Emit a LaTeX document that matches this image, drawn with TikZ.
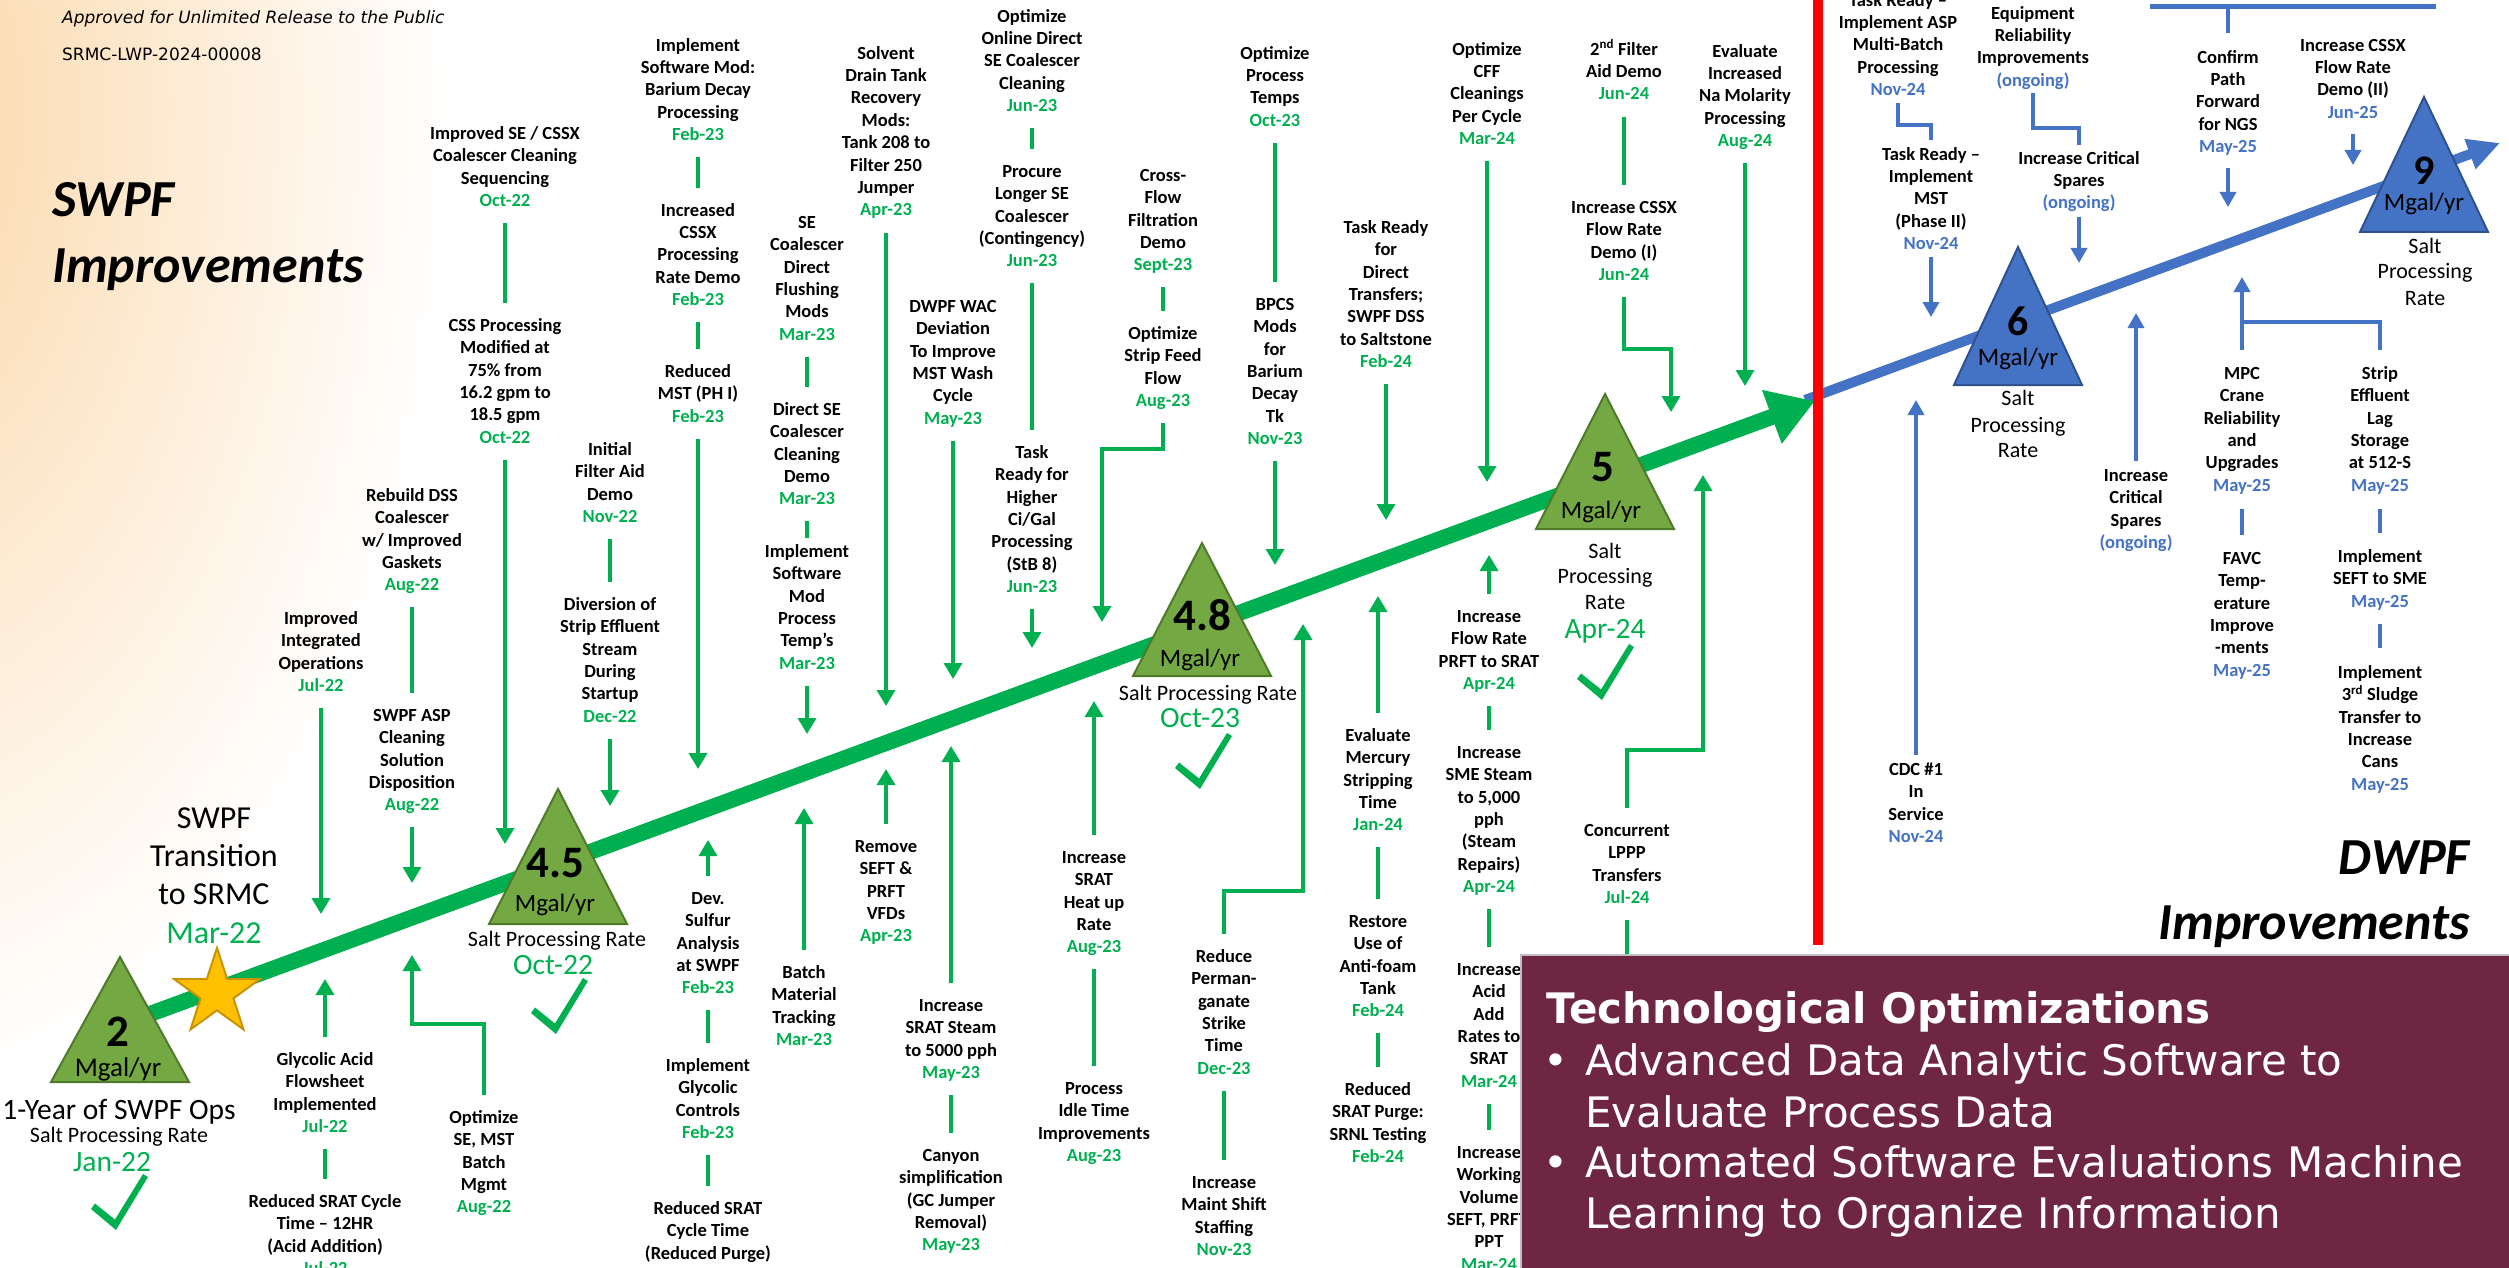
\documentclass[tikz,border=0pt]{standalone}
\usepackage{fontspec}
\setmainfont{Carlito}
\newfontfamily\djv{DejaVu Sans}
\usetikzlibrary{arrows.meta,shapes.geometric}
\definecolor{gline}{HTML}{00B050}
\definecolor{tri}{HTML}{74A843}
\definecolor{tridk}{HTML}{4F7A2C}
\definecolor{bline}{HTML}{4472C4}
\definecolor{btridk}{HTML}{2F528F}
\definecolor{maroon}{HTML}{6E2642}
\definecolor{glow}{RGB}{251,214,165}
\definecolor{starf}{HTML}{FFC000}
\definecolor{stard}{HTML}{C89200}
\newcommand\fsz[2]{\fontsize{#1}{#2}\selectfont}
\newcommand\lstr{\rule[-5.4pt]{0pt}{22.4pt}}
\newcommand\gdt[1]{\textcolor{gline}{#1}}
\newcommand\bdt[1]{\textcolor{bline}{#1}}
\newcommand\gitem[5]{\node[lbl] (#1) at (#2,#3) {\lstr #4\\\gdt{#5}\lstr};}
\newcommand\bitem[5]{\node[lbl] (#1) at (#2,#3) {\lstr #4\\\bdt{#5}\lstr};}
\tikzset{
 lbl/.style={anchor=north, align=center, inner sep=0pt, font=\bfseries\fsz{18.5}{22.4}},
 txt/.style={anchor=base, inner sep=0pt},
 gl/.style={draw=gline, line width=3.5pt},
 ga/.style={gl, -{Triangle[length=16pt,width=18pt]}},
 bl/.style={draw=bline, line width=3.5pt},
 ba/.style={bl, -{Triangle[length=15pt,width=16pt]}},
 numf/.style={txt, font=\bfseries\fsz{45}{50}},
 mgal/.style={txt, font=\fsz{25}{28}},
 spr/.style={txt, font=\fsz{22}{26}},
 bigd/.style={txt, font=\fsz{29.5}{34}, text=gline},
 ttl/.style={txt, font=\bfseries\itshape\fsz{52}{60}},
 gtri/.style={fill=tri, draw=tridk, line width=2pt},
 btri/.style={fill=bline, draw=btridk, line width=2pt},
 chk/.pic={\fill[gline] (-25,0.5) -- (-5,16.5) -- (23,-29) -- (28,-26) -- (-4,27) -- (-29,6) -- cycle;}
}
\begin{document}
\begin{tikzpicture}[x=1pt,y=-1pt]
\useasboundingbox (0,0) rectangle (2509,1268);
\clip (0,0) rectangle (2509,1268);
\fill[white] (0,0) rectangle (2509,1268);
\shade[inner color=glow, outer color=white] (-110,110) ellipse (560 and 980);

% header and titles
\node[txt, anchor=base west, font=\djv\itshape\fsz{17}{20}] (hdr1) at (62,24) {Approved for Unlimited Release to the Public};
\node[txt, anchor=base west, font=\djv\fsz{17}{20}] (hdr2) at (62,61) {SRMC-LWP-2024-00008};
\node[ttl, anchor=base west] (sw1) at (52,217) {SWPF};
\node[ttl, anchor=base west] (sw2) at (52,282) {Improvements};
\node[ttl, anchor=base east] (dw1) at (2470,874) {DWPF};
\node[ttl, anchor=base east] (dw2) at (2470,939) {Improvements};

% timelines
\draw[bline, line width=10pt, -{Triangle[length=32pt,width=30pt]}] (1805,400) -- (2500,143);
\draw[gline, line width=16pt, -{Triangle[length=46pt,width=54pt]}] (120,1025) -- (1815,401);
\draw[red, line width=10pt] (1818,-10) -- (1818,945);

% green triangles
\filldraw[gtri] (120,957) -- (51,1082) -- (189,1082) -- cycle;
\filldraw[gtri] (558,789) -- (489,924) -- (627,924) -- cycle;
\filldraw[gtri] (1202,543) -- (1133,676) -- (1271,676) -- cycle;
\filldraw[gtri] (1605,394) -- (1536,529) -- (1674,529) -- cycle;
% blue triangles
\filldraw[btri] (2018,247) -- (1954,385) -- (2082,385) -- cycle;
\filldraw[btri] (2424,97) -- (2360,232) -- (2488,232) -- cycle;

\node[star, star points=5, star point ratio=2.6, minimum size=90pt, inner sep=0pt, fill=starf, draw=stard, line width=2pt] (star) at (217,993) {};

% milestone texts
\node[numf] (n2) at (118,1046) {2};
\node[txt, font=\fsz{27}{30}] (m2) at (118,1076) {Mgal/yr};
\node[txt, font=\fsz{29.5}{34}] (y2) at (119,1119) {1-Year of SWPF Ops};
\node[spr] (s2) at (119,1142) {Salt Processing Rate};
\node[bigd] (d2) at (112,1171) {Jan-22};
\pic at (120,1203) {chk};

\node[txt, font=\fsz{32}{38}] (tr1) at (214,828) {SWPF};
\node[txt, font=\fsz{32}{38}] (tr2) at (214,866) {Transition};
\node[txt, font=\fsz{32}{38}] (tr3) at (214,904) {to SRMC};
\node[txt, font=\fsz{32}{38}, text=gline] (tr4) at (214,943) {Mar-22};

\node[numf] (n45) at (555,877) {4.5};
\node[mgal] (m45) at (555,911) {Mgal/yr};
\node[spr] (s45) at (557,946) {Salt Processing Rate};
\node[bigd] (d45) at (553,974) {Oct-22};
\pic at (560,1007) {chk};

\node[numf] (n48) at (1202,630) {4.8};
\node[mgal] (m48) at (1200,666) {Mgal/yr};
\node[spr] (s48) at (1208,700) {Salt Processing Rate};
\node[bigd] (d48) at (1200,727) {Oct-23};
\pic at (1204,762) {chk};

\node[numf] (n5) at (1603,481) {5};
\node[mgal] (m5) at (1601,518) {Mgal/yr};
\node[spr] (s5a) at (1605,558) {Salt};
\node[spr] (s5b) at (1605,583) {Processing};
\node[spr] (s5c) at (1605,609) {Rate};
\node[bigd] (d5) at (1605,638) {Apr-24};
\pic at (1606,673) {chk};

\node[txt, font=\bfseries\fsz{42}{48}] (n6) at (2018,335) {6};
\node[mgal] (m6) at (2018,365) {Mgal/yr};
\node[spr] (s6a) at (2018,405) {Salt};
\node[spr] (s6b) at (2018,432) {Processing};
\node[spr] (s6c) at (2018,457) {Rate};

\node[txt, font=\bfseries\fsz{42}{48}] (n9) at (2424,185) {9};
\node[mgal] (m9) at (2424,211) {Mgal/yr};
\node[spr] (s9a) at (2425,254) {Salt};
\node[spr] (s9b) at (2425,279) {Processing};
\node[spr] (s9c) at (2425,305) {Rate};

% green items
\gitem{g1}{321}{607}{Improved\\Integrated\\Operations}{Jul-22}
\gitem{g2}{325}{1048}{Glycolic Acid\\Flowsheet\\Implemented}{Jul-22}
\gitem{g3}{325}{1190}{Reduced SRAT Cycle\\Time -- 12HR\\(Acid Addition)}{Jul-22}
\gitem{g4}{412}{484}{Rebuild DSS\\Coalescer\\w/ Improved\\Gaskets}{Aug-22}
\gitem{g5}{412}{704}{SWPF ASP\\Cleaning\\Solution\\Disposition}{Aug-22}
\gitem{g6}{484}{1106}{Optimize\\SE, MST\\Batch\\Mgmt}{Aug-22}
\gitem{g7}{505}{122}{Improved SE / CSSX\\Coalescer Cleaning\\Sequencing}{Oct-22}
\gitem{g8}{505}{314}{CSS Processing\\Modified at\\75\% from\\16.2 gpm to\\18.5 gpm}{Oct-22}
\gitem{g9}{610}{438}{Initial\\Filter Aid\\Demo}{Nov-22}
\gitem{g10}{610}{593}{Diversion of\\Strip Effluent\\Stream\\During\\Startup}{Dec-22}
\gitem{g11}{698}{34}{Implement\\Software Mod:\\Barium Decay\\Processing}{Feb-23}
\gitem{g12}{698}{199}{Increased\\CSSX\\Processing\\Rate Demo}{Feb-23}
\gitem{g13}{698}{360}{Reduced\\MST (PH I)}{Feb-23}
\gitem{g14}{708}{887}{Dev.\\Sulfur\\Analysis\\at SWPF}{Feb-23}
\gitem{g15}{708}{1054}{Implement\\Glycolic\\Controls}{Feb-23}
\gitem{g16}{708}{1197}{Reduced SRAT\\Cycle Time\\(Reduced Purge)}{Feb-23}
\gitem{g17}{807}{211}{SE\\Coalescer\\Direct\\Flushing\\Mods}{Mar-23}
\gitem{g18}{807}{398}{Direct SE\\Coalescer\\Cleaning\\Demo}{Mar-23}
\gitem{g19}{807}{540}{Implement\\Software\\Mod\\Process\\Temp's}{Mar-23}
\gitem{g20}{804}{961}{Batch\\Material\\Tracking}{Mar-23}
\gitem{g21}{886}{42}{Solvent\\Drain Tank\\Recovery\\Mods:\\Tank 208 to\\Filter 250\\Jumper}{Apr-23}
\gitem{g22}{886}{835}{Remove\\SEFT \&\\PRFT\\VFDs}{Apr-23}
\gitem{g23}{953}{295}{DWPF WAC\\Deviation\\To Improve\\MST Wash\\Cycle}{May-23}
\gitem{g24}{951}{994}{Increase\\SRAT Steam\\to 5000 pph}{May-23}
\gitem{g25}{951}{1144}{Canyon\\simplification\\(GC Jumper\\Removal)}{May-23}
\gitem{g26}{1032}{5}{Optimize\\Online Direct\\SE Coalescer\\Cleaning}{Jun-23}
\gitem{g27}{1032}{160}{Procure\\Longer SE\\Coalescer\\(Contingency)}{Jun-23}
\gitem{g28}{1032}{441}{Task\\Ready for\\Higher\\Ci/Gal\\Processing\\(StB 8)}{Jun-23}
\gitem{g29}{1163}{164}{Cross-\\Flow\\Filtration\\Demo}{Sept-23}
\gitem{g30}{1163}{322}{Optimize\\Strip Feed\\Flow}{Aug-23}
\gitem{g31}{1094}{846}{Increase\\SRAT\\Heat up\\Rate}{Aug-23}
\gitem{g32}{1094}{1077}{Process\\Idle Time\\Improvements}{Aug-23}
\gitem{g33}{1224}{945}{Reduce\\Perman-\\ganate\\Strike\\Time}{Dec-23}
\gitem{g34}{1224}{1171}{Increase\\Maint Shift\\Staffing}{Nov-23}
\gitem{g35}{1275}{42}{Optimize\\Process\\Temps}{Oct-23}
\gitem{g36}{1275}{293}{BPCS\\Mods\\for\\Barium\\Decay\\Tk}{Nov-23}
\gitem{g37}{1386}{216}{Task Ready\\for\\Direct\\Transfers;\\SWPF DSS\\to Saltstone}{Feb-24}
\gitem{g38}{1378}{724}{Evaluate\\Mercury\\Stripping\\Time}{Jan-24}
\gitem{g39}{1378}{910}{Restore\\Use of\\Anti-foam\\Tank}{Feb-24}
\gitem{g40}{1378}{1078}{Reduced\\SRAT Purge:\\SRNL Testing}{Feb-24}
\gitem{g41}{1487}{38}{Optimize\\CFF\\Cleanings\\Per Cycle}{Mar-24}
\gitem{g42}{1489}{605}{Increase\\Flow Rate\\PRFT to SRAT}{Apr-24}
\gitem{g43}{1489}{741}{Increase\\SME Steam\\to 5,000\\pph\\(Steam\\Repairs)}{Apr-24}
\gitem{g44}{1489}{958}{Increase\\Acid\\Add\\Rates to\\SRAT}{Mar-24}
\gitem{g45}{1489}{1141}{Increase\\Working\\Volume\\SEFT, PRFT,\\PPT}{Mar-24}
\gitem{g46}{1624}{38}{2\textsuperscript{nd} Filter\\Aid Demo}{Jun-24}
\gitem{g47}{1624}{196}{Increase CSSX\\Flow Rate\\Demo (I)}{Jun-24}
\gitem{g48}{1745}{40}{Evaluate\\Increased\\Na Molarity\\Processing}{Aug-24}
\gitem{g49}{1627}{819}{Concurrent\\LPPP\\Transfers}{Jul-24}

% green connectors
\draw[ga] ([yshift=-11pt]g1.south) -- (g1.south |- 0,914);
\draw[ga] ([yshift=11pt]g2.north) -- (g2.north |- 0,979);
\draw[gl] ([yshift=-11pt]g2.south) -- ([yshift=11pt]g3.north);
\draw[gl] ([yshift=-11pt]g4.south) -- ([yshift=11pt]g5.north);
\draw[ga] ([yshift=-11pt]g5.south) -- (g5.south |- 0,883);
\draw[ga] ([yshift=11pt]g6.north) -- (g6.north |- 0,1024) -| (g5.south |- 0,955);
\draw[gl] ([yshift=-11pt]g7.south) -- ([yshift=11pt]g8.north);
\draw[ga] ([yshift=-11pt]g8.south) -- (g8.south |- 0,844);
\draw[gl] ([yshift=-11pt]g9.south) -- ([yshift=11pt]g10.north);
\draw[ga] ([yshift=-11pt]g10.south) -- (g10.south |- 0,806);
\draw[gl] ([yshift=-11pt]g11.south) -- ([yshift=11pt]g12.north);
\draw[gl] ([yshift=-11pt]g12.south) -- ([yshift=11pt]g13.north);
\draw[ga] ([yshift=-11pt]g13.south) -- (g13.south |- 0,769);
\draw[ga] ([yshift=11pt]g14.north) -- (g14.north |- 0,840);
\draw[gl] ([yshift=-11pt]g14.south) -- ([yshift=11pt]g15.north);
\draw[gl] ([yshift=-11pt]g15.south) -- ([yshift=11pt]g16.north);
\draw[gl] ([yshift=-11pt]g17.south) -- ([yshift=11pt]g18.north);
\draw[gl] ([yshift=-11pt]g18.south) -- ([yshift=2pt]g19.north);
\draw[ga] ([yshift=-11pt]g19.south) -- (g19.south |- 0,734);
\draw[ga] ([yshift=11pt]g20.north) -- (g20.north |- 0,808);
\draw[ga] ([yshift=-11pt]g21.south) -- (g21.south |- 0,706);
\draw[ga] ([yshift=11pt]g22.north) -- (g22.north |- 0,769);
\draw[ga] ([yshift=-11pt]g23.south) -- (g23.south |- 0,679);
\draw[ga] ([yshift=11pt]g24.north) -- (g24.north |- 0,746);
\draw[gl] ([yshift=-11pt]g24.south) -- ([yshift=11pt]g25.north);
\draw[gl] ([yshift=-11pt]g26.south) -- ([yshift=11pt]g27.north);
\draw[gl] ([yshift=-11pt]g27.south) -- ([yshift=11pt]g28.north);
\draw[ga] ([yshift=-11pt]g28.south) -- (g28.south |- 0,648);
\draw[gl] ([yshift=-11pt]g29.south) -- ([yshift=11pt]g30.north);
\draw[ga] ([yshift=-11pt]g30.south) -- (g30.south |- 0,449) -| (1102,622);
\draw[ga] ([yshift=11pt]g31.north) -- (g31.north |- 0,701);
\draw[gl] ([yshift=-11pt]g31.south) -- ([yshift=11pt]g32.north);
\draw[ga] ([yshift=11pt]g33.north) -- (g33.north |- 0,891) -| (1303,624);
\draw[gl] ([yshift=-11pt]g33.south) -- ([yshift=11pt]g34.north);
\draw[gl] ([yshift=-11pt]g35.south) -- ([yshift=11pt]g36.north);
\draw[ga] ([yshift=-11pt]g36.south) -- (g36.south |- 0,565);
\draw[ga] ([yshift=-11pt]g37.south) -- (g37.south |- 0,520);
\draw[ga] ([yshift=11pt]g38.north) -- (g38.north |- 0,596);
\draw[gl] ([yshift=-11pt]g38.south) -- ([yshift=11pt]g39.north);
\draw[gl] ([yshift=-11pt]g39.south) -- ([yshift=11pt]g40.north);
\draw[ga] ([yshift=-11pt]g41.south) -- (g41.south |- 0,482);
\draw[ga] ([yshift=11pt]g42.north) -- (g42.north |- 0,555);
\draw[gl] ([yshift=-11pt]g42.south) -- ([yshift=11pt]g43.north);
\draw[gl] ([yshift=-11pt]g43.south) -- ([yshift=11pt]g44.north);
\draw[gl] ([yshift=-11pt]g44.south) -- ([yshift=11pt]g45.north);
\draw[gl] ([yshift=-11pt]g46.south) -- ([yshift=11pt]g47.north);
\draw[ga] ([yshift=-11pt]g47.south) -- (g47.south |- 0,349) -| (1671,412);
\draw[ga] ([yshift=-11pt]g48.south) -- (g48.south |- 0,386);
\draw[ga] ([yshift=11pt]g49.north) -- (g49.north |- 0,750) -| (1703,475);
\draw[gl] ([yshift=-11pt]g49.south) -- ++(0,60);

% blue items
\bitem{b1}{1898}{-11}{Task Ready --\\Implement ASP\\Multi-Batch\\Processing}{Nov-24}
\bitem{b2}{1931}{143}{Task Ready --\\Implement\\MST\\(Phase II)}{Nov-24}
\bitem{b3}{2033}{2}{Equipment\\Reliability\\Improvements}{(ongoing)}
\bitem{b4}{2079}{147}{Increase Critical\\Spares}{(ongoing)}
\bitem{b5}{1916}{758}{CDC \#1\\In\\Service}{Nov-24}
\bitem{b6}{2136}{464}{Increase\\Critical\\Spares}{(ongoing)}
\bitem{b7}{2228}{46}{Confirm\\Path\\Forward\\for NGS}{May-25}
\bitem{b8}{2353}{34}{Increase CSSX\\Flow Rate\\Demo (II)}{Jun-25}
\bitem{b9}{2242}{362}{MPC\\Crane\\Reliability\\and\\Upgrades}{May-25}
\bitem{b10}{2380}{362}{Strip\\Effluent\\Lag\\Storage\\at 512-S}{May-25}
\bitem{b11}{2242}{547}{FAVC\\Temp-\\erature\\Improve\\-ments}{May-25}
\bitem{b12}{2380}{545}{Implement\\SEFT to SME}{May-25}
\bitem{b13}{2380}{661}{Implement\\3\textsuperscript{rd} Sludge\\Transfer to\\Increase\\Cans}{May-25}

% blue connectors
\draw[bl] ([yshift=-2pt]b1.south) -- (b1.south |- 0,125) -| ([yshift=3pt]b2.north);
\draw[ba] ([yshift=-2pt]b2.south) -- (b2.south |- 0,317);
\draw[bl] ([yshift=-1pt]b3.south) -- (b3.south |- 0,128) -| ([yshift=2pt]b4.north);
\draw[ba] ([yshift=-2pt]b4.south) -- (b4.south |- 0,263);
\draw[ba] ([yshift=3pt]b5.north) -- (b5.north |- 0,400);
\draw[ba] ([yshift=3pt]b6.north) -- (b6.north |- 0,313);
\draw[ba] ([yshift=-10pt]b7.south) -- (b7.south |- 0,207);
\draw[ba] ([yshift=-10pt]b8.south) -- (b8.south |- 0,165);
\draw[ba] ([yshift=12pt]b9.north) -- (b9.north |- 0,277);
\draw[bl] (b9.north |- 0,322) -- (b10.north |- 0,322) -- ([yshift=12pt]b10.north);
\draw[bl] ([yshift=-12pt]b9.south) -- ([yshift=12pt]b11.north);
\draw[bl] ([yshift=-12pt]b10.south) -- ([yshift=12pt]b12.north);
\draw[bl] ([yshift=-11pt]b12.south) -- ([yshift=13pt]b13.north);
\draw[bl, line width=5pt] (2150,7) -- (2436,7);
\draw[bl] (2228,7) -- ([yshift=13pt]b7.north);

% technology box
\node[fill=maroon, draw=black!25, line width=1.5pt, inner sep=0pt, minimum width=1000pt, minimum height=330pt, anchor=north west] (tech) at (1520,954) {};
\node[txt, anchor=base west, text=white, font=\djv\bfseries\fsz{42}{50}] (techt) at (1546,1023) {Technological Optimizations};
\node[txt, text=white, font=\djv\fsz{42}{50}] (bu1) at (1556,1075) {\textbullet};
\node[txt, text=white, font=\djv\fsz{42}{50}] (bu2) at (1556,1177) {\textbullet};
\node[txt, anchor=base west, text=white, font=\djv\fsz{42}{50}] (t1) at (1585,1075) {Advanced Data Analytic Software to};
\node[txt, anchor=base west, text=white, font=\djv\fsz{42}{50}] (t2) at (1585,1127) {Evaluate Process Data};
\node[txt, anchor=base west, text=white, font=\djv\fsz{42}{50}] (t3) at (1585,1177) {Automated Software Evaluations Machine};
\node[txt, anchor=base west, text=white, font=\djv\fsz{42}{50}] (t4) at (1585,1228) {Learning to Organize Information};
\end{tikzpicture}
\end{document}
